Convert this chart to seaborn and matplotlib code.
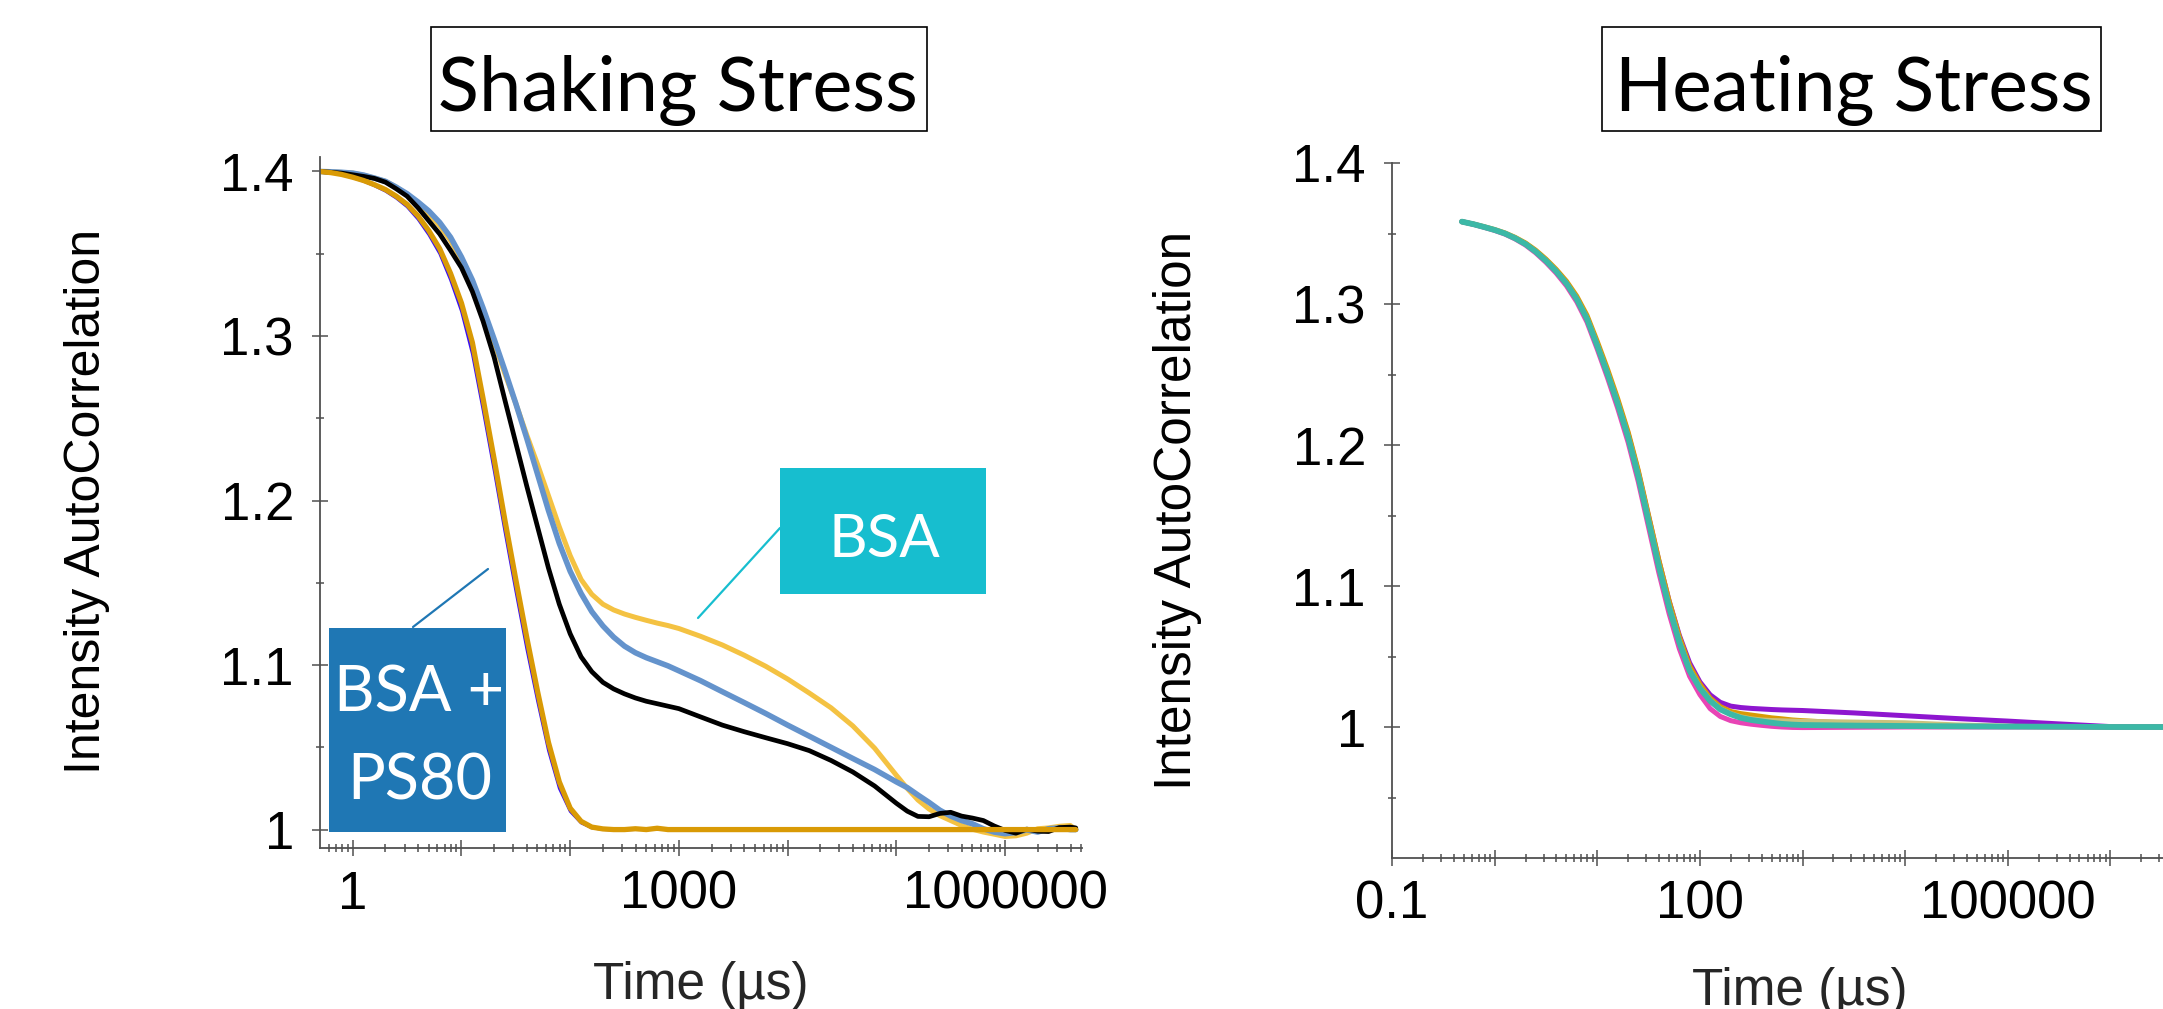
import matplotlib
matplotlib.use("Agg")
import matplotlib.pyplot as plt
import seaborn as sns
import pandas as pd
from matplotlib.patches import Rectangle
from matplotlib.lines import Line2D
from matplotlib.ticker import FixedLocator, NullFormatter

W, H = 2163, 1009

# ---------------- Shaking stress data (time in us, g2) ----------------
shake_time = [0.5, 0.63, 0.79, 1, 1.26, 1.58, 2.0, 2.51, 3.16, 3.98,
              5.01, 6.31, 7.94, 10, 12.6, 15.8, 20, 25.1, 31.6, 39.8,
              50.1, 63.1, 79.4, 100, 126, 158, 200, 251, 316, 398,
              501, 631, 794, 1000, 1580, 2510, 3980, 6310, 1e4, 15800,
              25100, 39800, 63100, 1e5, 126000, 158000, 200000, 251000, 316000, 398000,
              501000, 631000, 794000, 1e6, 1260000, 1580000, 2e6, 2510000, 3160000, 3980000,
              4470000]

ps80_orange = [1.400, 1.3993, 1.3982, 1.3965, 1.3945, 1.392, 1.389, 1.385, 1.380, 1.373,
               1.364, 1.353, 1.338, 1.320, 1.296, 1.262, 1.225, 1.188, 1.152, 1.117,
               1.084, 1.053, 1.029, 1.013, 1.005, 1.0015, 1.0004, 1.000, 1.000, 1.0005,
               1.000, 1.0008, 1.000, 1.000, 1.000, 1.000, 1.000, 1.000, 1.000, 1.000,
               1.000, 1.000, 1.000, 1.000, 1.000, 1.000, 1.000, 1.000, 1.000, 1.000,
               1.000, 1.000, 1.000, 1.000, 1.000, 1.000, 1.000, 1.000, 1.000, 1.000,
               1.000]
ps80_red = [1.400, 1.3992, 1.3981, 1.3963, 1.3942, 1.3916, 1.3885, 1.3844, 1.3792, 1.372,
            1.3627, 1.3515, 1.336, 1.3175, 1.2925, 1.2585, 1.2215, 1.1845, 1.1485, 1.1135,
            1.081, 1.0505, 1.027, 1.012, 1.0045, 1.0012, 1.0003, 1.000, 1.000, 1.000,
            1.000, 1.000, 1.000, 1.000, 1.000, 1.000, 1.000, 1.000, 1.000, 1.000,
            1.000, 1.000, 1.000, 1.000, 1.000, 1.000, 1.000, 1.000, 1.000, 1.000,
            1.000, 1.000, 1.000, 1.000, 1.000, 1.000, 1.000, 1.000, 1.000, 1.000,
            1.000]
ps80_blue = [1.400, 1.3992, 1.398, 1.3962, 1.394, 1.3913, 1.388, 1.3838, 1.3785, 1.371,
             1.3615, 1.350, 1.334, 1.315, 1.289, 1.255, 1.218, 1.181, 1.145, 1.110,
             1.078, 1.048, 1.025, 1.011, 1.004, 1.001, 1.0000, 0.9997, 0.9998, 1.000,
             1.000, 1.000, 1.000, 1.000, 1.000, 1.000, 1.000, 1.000, 1.000, 1.000,
             1.000, 1.000, 1.000, 1.000, 1.000, 1.000, 1.000, 1.000, 1.000, 1.000,
             1.000, 1.000, 1.000, 1.000, 1.000, 1.000, 1.000, 1.000, 1.000, 1.000,
             1.000]
bsa_black = [1.400, 1.3995, 1.399, 1.398, 1.397, 1.3958, 1.3935, 1.3895, 1.385, 1.378,
             1.370, 1.362, 1.352, 1.3415, 1.327, 1.309, 1.287, 1.261, 1.235, 1.209,
             1.184, 1.159, 1.137, 1.119, 1.105, 1.096, 1.0895, 1.0855, 1.0825, 1.080,
             1.078, 1.0765, 1.075, 1.0735, 1.0685, 1.0635, 1.0595, 1.0558, 1.0522, 1.0480,
             1.0420, 1.0350, 1.0265, 1.0160, 1.0112, 1.0080, 1.0078, 1.0098, 1.0105, 1.0082,
             1.0070, 1.0055, 1.0022, 0.9995, 0.9978, 1.0003, 0.9990, 0.9988, 1.0012, 1.0015,
             1.001]
bsa_blue = [1.400, 1.3998, 1.3995, 1.399, 1.3978, 1.396, 1.394, 1.3905, 1.3865, 1.3815,
            1.376, 1.369, 1.360, 1.348, 1.334, 1.317, 1.298, 1.279, 1.259, 1.238,
            1.216, 1.194, 1.174, 1.157, 1.1435, 1.1325, 1.1238, 1.117, 1.1115, 1.1075,
            1.1045, 1.102, 1.0995, 1.0965, 1.0905, 1.0838, 1.0772, 1.0705, 1.0635, 1.0568,
            1.0500, 1.0432, 1.0365, 1.0290, 1.0255, 1.0210, 1.0165, 1.0118, 1.0082, 1.0055,
            1.0035, 1.0005, 0.9985, 0.9975, 0.9982, 0.9998, 0.9985, 1.0005, 1.001, 1.000,
            1.000]
bsa_yellow = [1.400, 1.3998, 1.3994, 1.399, 1.3977, 1.396, 1.394, 1.3905, 1.386, 1.381,
              1.374, 1.367, 1.358, 1.346, 1.332, 1.315, 1.296, 1.277, 1.259, 1.240,
              1.222, 1.203, 1.184, 1.1665, 1.152, 1.143, 1.137, 1.1335, 1.131, 1.129,
              1.1272, 1.1255, 1.124, 1.1222, 1.1175, 1.1122, 1.1060, 1.0992, 1.0915, 1.0830,
              1.0740, 1.0630, 1.0495, 1.0330, 1.0250, 1.0180, 1.0125, 1.0085, 1.0055, 1.0025,
              1.0002, 0.9985, 0.9972, 0.9958, 0.9962, 0.9978, 1.0005, 1.001, 1.002, 1.0025,
              1.000]

# ---------------- Heating stress data ----------------
heat_time = [0.48, 0.63, 0.79, 1, 1.26, 1.58, 2.0, 2.51, 3.16, 3.98,
             5.01, 6.31, 7.94, 10, 12.6, 15.8, 20, 25.1, 31.6, 39.8,
             50.1, 63.1, 79.4, 100, 126, 158, 200, 251, 316, 398,
             501, 631, 794, 1000, 3160, 1e4, 31600, 1e5, 316000, 1e6,
             4470000]
heat_teal = [1.3584, 1.3565, 1.3546, 1.3525, 1.3500, 1.3467, 1.3425, 1.3372, 1.3307, 1.3232,
             1.3145, 1.3035, 1.2895, 1.2705, 1.2505, 1.2295, 1.2055, 1.178, 1.146, 1.114,
             1.085, 1.060, 1.040, 1.0275, 1.0185, 1.0125, 1.009, 1.0065, 1.005, 1.004,
             1.003, 1.0022, 1.0017, 1.0014, 1.001, 1.0007, 1.0005, 1.0003, 1.0002, 1.000,
             1.000]
heat_purple = [1.3584, 1.3565, 1.3546, 1.3525, 1.3500, 1.3468, 1.3427, 1.3375, 1.3311, 1.3237,
               1.3152, 1.3044, 1.2906, 1.2720, 1.2522, 1.2315, 1.2080, 1.1810, 1.1495, 1.1180,
               1.0895, 1.0650, 1.0455, 1.0320, 1.0228, 1.0175, 1.0148, 1.0138, 1.0132, 1.0128,
               1.0124, 1.0121, 1.0119, 1.0117, 1.0100, 1.0080, 1.0060, 1.0042, 1.0022, 1.0003,
               1.000]
heat_orange = [1.3584, 1.3566, 1.3548, 1.3528, 1.3504, 1.3473, 1.3433, 1.3382, 1.3319, 1.3246,
               1.3162, 1.3056, 1.2920, 1.2735, 1.2538, 1.2330, 1.2092, 1.1820, 1.1502, 1.1185,
               1.0895, 1.0640, 1.0435, 1.0305, 1.0205, 1.0145, 1.011, 1.0095, 1.0085, 1.0075,
               1.0065, 1.0058, 1.005, 1.0045, 1.0025, 1.0012, 1.0006, 1.0004, 1.0002, 1.000,
               1.000]
heat_olive = [1.3584, 1.3565, 1.3546, 1.3525, 1.3500, 1.3467, 1.3425, 1.3372, 1.3307, 1.3233,
              1.3147, 1.3038, 1.2898, 1.2710, 1.2510, 1.2300, 1.2060, 1.1788, 1.1468, 1.1148,
              1.0858, 1.0605, 1.0405, 1.0280, 1.0190, 1.0130, 1.0095, 1.0072, 1.0058, 1.0050,
              1.0046, 1.0044, 1.0042, 1.0040, 1.0035, 1.0030, 1.0015, 1.0005, 1.0002, 1.000,
              1.000]
heat_pink = [1.3584, 1.3564, 1.3544, 1.3522, 1.3496, 1.3462, 1.3418, 1.3363, 1.3296, 1.3219,
             1.3129, 1.3016, 1.2872, 1.2680, 1.2476, 1.2262, 1.2018, 1.1740, 1.1418, 1.1095,
             1.0805, 1.0555, 1.0360, 1.0230, 1.0130, 1.0075, 1.0045, 1.003, 1.002, 1.0012,
             1.0005, 1.000, 0.9997, 0.9996, 0.9998, 1.000, 1.000, 1.000, 1.000, 1.000,
             1.000]

# tick labels
left_xticks = [1, 10, 100, 1000, 1e4, 1e5, 1e6]
left_xlabels = ["1", "", "", "1000", "", "", "1000000"]
right_xticks = [0.1, 1, 10, 100, 1000, 1e4, 1e5, 1e6]
right_xlabels = ["0.1", "", "", "100", "", "", "100000", ""]
yticks = [1.0, 1.1, 1.2, 1.3, 1.4]
ylabels = ["1", "1.1", "1.2", "1.3", "1.4"]

# ---------------- Figure ----------------
sns.set_theme(style="ticks")
plt.rcParams['font.family'] = ['Liberation Sans', 'DejaVu Sans']

fig = plt.figure(figsize=(W / 100, H / 100), dpi=100)
fig.patch.set_facecolor("white")


def fx(x):
    return x / W


def fy(y):
    return 1 - y / H


axL = fig.add_axes([fx(320), fy(848), 762 / W, 691 / H])
axR = fig.add_axes([fx(1392), fy(858), 791 / W, 695 / H])

for g, c, lw in [
    (bsa_yellow, "#F4C242", 3.6),
    (bsa_blue, "#6493CC", 4.0),
    (bsa_black, "#000000", 3.4),
    (ps80_red, "#FF1010", 2.0),
    (ps80_blue, "#3A10F0", 2.0),
    (ps80_orange, "#D99A05", 3.8),
]:
    df = pd.DataFrame({"time": shake_time, "g2": g})
    sns.lineplot(data=df, x="time", y="g2", ax=axL, color=c, linewidth=lw,
                 estimator=None, sort=True)

for g, c, lw in [
    (heat_purple, "#8E16CF", 3.6),
    (heat_orange, "#D99A05", 3.6),
    (heat_olive, "#C8C27C", 3.6),
    (heat_pink, "#E844B5", 3.6),
    (heat_teal, "#3CB8A6", 4.2),
]:
    df = pd.DataFrame({"time": heat_time, "g2": g})
    sns.lineplot(data=df, x="time", y="g2", ax=axR, color=c, linewidth=lw,
                 estimator=None, sort=True)

axis_col = "#505050"
for ax, xl, yl, xt, xlab, ymin_minor in [
    (axL, (0.5, 5.1e6), (0.9888, 1.4088), left_xticks, left_xlabels, [1.05, 1.15, 1.25, 1.35]),
    (axR, (0.1, 5.1e6), (0.9071, 1.4), right_xticks, right_xlabels, [0.95, 1.05, 1.15, 1.25, 1.35]),
]:
    ax.set_xscale("log")
    ax.set_xlim(*xl)
    ax.set_ylim(*yl)
    ax.set_xlabel("")
    ax.set_ylabel("")
    ax.set_facecolor("none")
    for s in ["top", "right"]:
        ax.spines[s].set_visible(False)
    for s in ["left", "bottom"]:
        ax.spines[s].set_color(axis_col)
        ax.spines[s].set_linewidth(1.3)
    ax.set_xticks(xt)
    ax.set_xticklabels(xlab)
    minors = []
    for d in range(-2, 7):
        for k in range(2, 10):
            v = k * 10.0 ** d
            if xl[0] < v < xl[1]:
                minors.append(v)
    ax.xaxis.set_minor_locator(FixedLocator(minors))
    ax.xaxis.set_minor_formatter(NullFormatter())
    ax.set_yticks(yticks)
    ax.set_yticklabels(ylabels)
    ax.yaxis.set_minor_locator(FixedLocator(ymin_minor))
    ax.yaxis.set_minor_formatter(NullFormatter())
    ax.tick_params(axis="both", which="major", direction="inout", length=11.5,
                   width=1.1, color=axis_col, labelsize=38, labelcolor="black")
    ax.tick_params(axis="x", which="major", pad=10)
    ax.tick_params(axis="y", which="major", pad=13)
    ax.tick_params(axis="both", which="minor", direction="inout", length=6,
                   width=1.1, color=axis_col)

# axis labels
fig.text(fx(87), fy(501), "Intensity AutoCorrelation", rotation=90, ha="center",
         va="center", fontsize=36, color="black")
fig.text(fx(1178), fy(510), "Intensity AutoCorrelation", rotation=90, ha="center",
         va="center", fontsize=37, color="black")
fig.text(fx(701), fy(999), "Time (µs)", ha="center", va="baseline", fontsize=37)
fig.text(fx(1800), fy(1005), "Time (µs)", ha="center", va="baseline", fontsize=37)

renderer = fig.canvas.get_renderer()


def fit_width(t, target):
    for _ in range(4):
        w = t.get_window_extent(renderer).width
        t.set_fontsize(t.get_fontsize() * target / w)


# titles with boxes
for (x0, x1), cx, tw, label in [((431, 927), 678, 481, "Shaking Stress"),
                                ((1602, 2101), 1854, 478, "Heating Stress")]:
    fig.patches.append(Rectangle((fx(x0), fy(131)), (x1 - x0) / W, 104 / H,
                                 transform=fig.transFigure, fill=False,
                                 edgecolor="black", linewidth=1.2))
    t = fig.text(fx(cx), fy(111), label, ha="center", va="baseline",
                 fontsize=60, family=["Lato", "DejaVu Sans"], color="black")
    fit_width(t, tw)

# BSA annotation
fig.lines.append(Line2D([fx(780), fx(698)], [fy(528), fy(618)], transform=fig.transFigure,
                        color="#17BECF", linewidth=1.6))
fig.patches.append(Rectangle((fx(780), fy(594)), 206 / W, 126 / H,
                             transform=fig.transFigure, facecolor="#17BECF",
                             edgecolor="none"))
t = fig.text(fx(884), fy(557), "BSA", ha="center", va="baseline", fontsize=50,
             family=["Lato", "DejaVu Sans"], color="white")
fit_width(t, 112)

# BSA + PS80 annotation
fig.lines.append(Line2D([fx(413), fx(488)], [fy(627), fy(569)], transform=fig.transFigure,
                        color="#1F77B4", linewidth=1.6))
fig.patches.append(Rectangle((fx(329), fy(832)), 177 / W, 204 / H,
                             transform=fig.transFigure, facecolor="#1F77B4",
                             edgecolor="none"))
t2 = fig.text(fx(420), fy(800), "PS80", ha="center", va="baseline", fontsize=50,
              family=["Lato", "DejaVu Sans"], color="white")
fit_width(t2, 145)
fig.text(fx(419), fy(711), "BSA +", ha="center", va="baseline", fontsize=t2.get_fontsize(),
         family=["Lato", "DejaVu Sans"], color="white")

fig.savefig("out.png", dpi=100, facecolor="white")
